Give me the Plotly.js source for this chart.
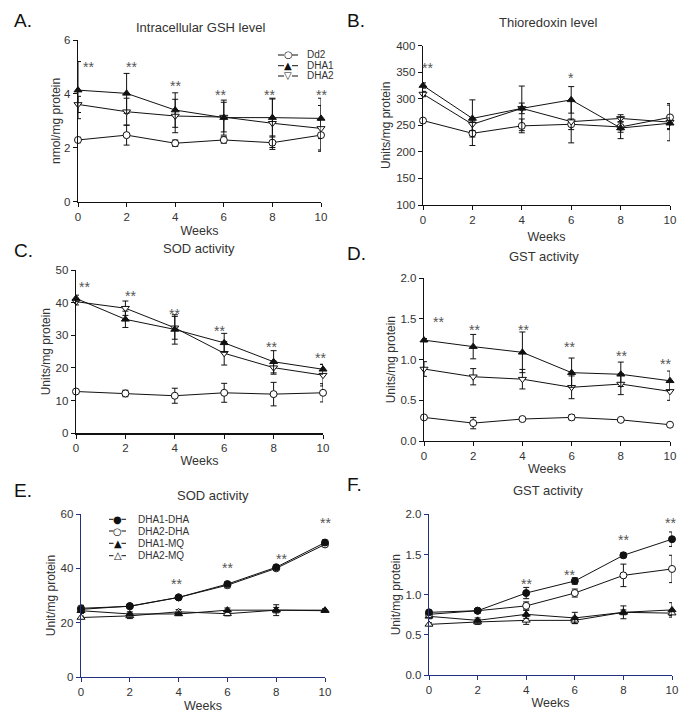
<!DOCTYPE html>
<html><head><meta charset="utf-8">
<script src="https://cdn.plot.ly/plotly-3.0.1.min.js"></script>
<style>html,body{margin:0;padding:0;background:#fff}</style>
</head><body><div id="chart" style="width:689px;height:723px"></div>
<script>
// ---------------- DATA ----------------
const weeks = [0, 2, 4, 6, 8, 10];

// A. Intracellular GSH level (nmol/mg protein)
const gshDd2 = [2.29, 2.47, 2.17, 2.29, 2.19, 2.47];
const gshDd2Err = [0.10, 0.37, 0.12, 0.12, 0.25, 0.55];
const gshDHA1 = [4.14, 4.02, 3.40, 3.12, 3.12, 3.09];
const gshDHA1Err = [1.06, 0.74, 0.64, 0.65, 0.72, 0.75];
const gshDHA2 = [3.61, 3.34, 3.18, 3.14, 2.91, 2.72];
const gshDHA2Err = [0.30, 0.50, 0.62, 0.55, 0.90, 0.85];

// B. Thioredoxin level (Units/mg protein)
const trxDd2 = [259, 235, 249, 252, 247, 265];
const trxDd2Err = [3, 23, 13, 10, 10, 23];
const trxDHA1 = [325, 263, 282, 298, 245, 254];
const trxDHA1Err = [5, 35, 42, 25, 20, 10];
const trxDHA2 = [309, 252, 282, 257, 263, 256];
const trxDHA2Err = [5, 12, 10, 40, 7, 35];

// C. SOD activity (Units/mg protein)
const sodDd2 = [12.8, 12.2, 11.5, 12.4, 12.0, 12.4];
const sodDd2Err = [0.5, 1.0, 2.3, 2.9, 3.6, 2.8];
const sodDHA1 = [41.3, 34.9, 31.8, 27.7, 21.9, 19.6];
const sodDHA1Err = [1.0, 2.5, 4.5, 2.9, 3.4, 1.5];
const sodDHA2 = [40.3, 38.3, 32.3, 24.5, 20.1, 17.8];
const sodDHA2Err = [1.0, 2.2, 3.5, 3.6, 2.0, 3.3];

// D. GST activity (Units/mg protein)
const gstDd2 = [0.29, 0.22, 0.27, 0.29, 0.26, 0.20];
const gstDd2Err = [0.02, 0.07, 0.02, 0.03, 0.02, 0.02];
const gstDHA1 = [1.24, 1.16, 1.09, 0.84, 0.82, 0.74];
const gstDHA1Err = [0.02, 0.15, 0.25, 0.18, 0.15, 0.12];
const gstDHA2 = [0.885, 0.79, 0.76, 0.66, 0.70, 0.61];
const gstDHA2Err = [0.09, 0.10, 0.12, 0.14, 0.13, 0.11];

// E. SOD activity (Unit/mg protein)
const sodE_DHA1DHA = [24.9, 26.1, 29.3, 34.2, 40.4, 49.5];
const sodE_DHA1DHAErr = [1.5, 0.6, 0.5, 0.8, 0.8, 1.0];
const sodE_DHA2DHA = [25.3, 26.0, 29.3, 33.8, 40.0, 48.8];
const sodE_DHA2DHAErr = [1.0, 0.5, 0.5, 1.0, 0.8, 0.8];
const sodE_DHA1MQ = [24.4, 23.2, 23.2, 24.6, 24.6, 24.6];
const sodE_DHA1MQErr = [0.8, 0.8, 0.5, 0.8, 1.0, 0.5];
const sodE_DHA2MQ = [21.9, 22.5, 24.0, 23.3, 24.6, 24.4];
const sodE_DHA2MQErr = [0.5, 1.0, 0.8, 0.8, 2.0, 0.5];

// F. GST activity (Unit/mg protein)
const gstF_DHA1DHA = [0.78, 0.80, 1.02, 1.17, 1.49, 1.69];
const gstF_DHA1DHAErr = [0.02, 0.02, 0.07, 0.04, 0.03, 0.09];
const gstF_DHA2DHA = [0.755, 0.80, 0.86, 1.02, 1.24, 1.32];
const gstF_DHA2DHAErr = [0.02, 0.02, 0.05, 0.05, 0.14, 0.17];
const gstF_DHA1MQ = [0.73, 0.68, 0.755, 0.71, 0.78, 0.81];
const gstF_DHA1MQErr = [0.03, 0.03, 0.05, 0.07, 0.08, 0.09];
const gstF_DHA2MQ = [0.63, 0.66, 0.68, 0.68, 0.78, 0.77];
const gstF_DHA2MQErr = [0.02, 0.03, 0.05, 0.04, 0.03, 0.03];

// significance marks
const starsA = {x: [0.45, 2.2, 4.0, 5.85, 7.9, 10.0, 10.35], y: [5.14, 5.14, 4.46, 4.12, 4.12, 4.12, 2.8], t: ['**','**','**','**','**','**','*']};
const starsB = {x: [0.2, 6.0], y: [366, 347], t: ['**','*']};
const starsC = {x: [0.35, 2.2, 4.0, 5.82, 7.9, 9.9], y: [45.9, 43.4, 37.8, 32.7, 27.6, 24.3], t: ['**','**','**','**','**','**']};
const starsD = {x: [0.57, 2.06, 4.03, 5.9, 8.03, 9.82], y: [1.51, 1.41, 1.41, 1.2, 1.09, 0.99], t: ['**','**','**','**','**','**']};
const starsE = {x: [3.92, 6.0, 8.2, 10.0], y: [35.7, 41.6, 45.0, 58.1], t: ['**','**','**','**']};
const starsF = {x: [4.0, 5.78, 8.0, 9.93], y: [1.18, 1.29, 1.73, 1.94], t: ['**','**','**','**']};

const xTickVals = [0, 2, 4, 6, 8, 10];

// ---------------- LAYOUT HELPERS ----------------
const W = 689, H = 723;
const FONT = 'Liberation Sans, Arial, Helvetica, sans-serif';
const TXT = '#333';
const BLACK = '#111';
const NAVY = '#23317F';

const panels = [
  {letter:'A.', title:'Intracellular GSH level', xd:[78,321], yd:[40,201.7], yr:[0,6], yt:[0,2,4,6], fmt:'', ytitle:'nmol/mg protein', col:BLACK, stars:starsA,
    lx:12, ly:20, tx:200, ty:28, ys:0, xs:4},
  {letter:'B.', title:'Thioredoxin level', xd:[423,670], yd:[45.7,205], yr:[100,400], yt:[100,150,200,250,300,350,400], fmt:'', ytitle:'Units/mg protein', col:BLACK, stars:starsB,
    lx:345, ly:20, tx:548, ty:22, ys:3, xs:7},
  {letter:'C.', title:'SOD activity', xd:[76,323], yd:[270,433.3], yr:[0,50], yt:[0,10,20,30,40,50], fmt:'', ytitle:'Units/mg protein', col:BLACK, stars:starsC,
    lx:12, ly:250, tx:199, ty:248, ys:2, xs:2},
  {letter:'D.', title:'GST activity', xd:[424,670], yd:[278.3,441], yr:[0,2], yt:[0,0.5,1,1.5,2], fmt:'.1f', ytitle:'Units/mg protein', col:BLACK, stars:starsD,
    lx:345, ly:254, tx:544, ty:256, ys:2, xs:3},
  {letter:'E.', title:'SOD activity', xd:[81,325], yd:[514,677], yr:[0,60], yt:[0,20,40,60], fmt:'', ytitle:'Unit/mg protein', col:NAVY, stars:starsE,
    lx:12, ly:490, tx:213, ty:495, ys:2, xs:4},
  {letter:'F.', title:'GST activity', xd:[429,672], yd:[514.3,675], yr:[0,2], yt:[0,0.5,1,1.5,2], fmt:'.1f', ytitle:'Unit/mg protein', col:NAVY, stars:starsF,
    lx:345, ly:485, tx:548, ty:490, ys:2, xs:3}
];

const MK = {
  openCircle: {symbol:'circle', color:'white', line:{color:BLACK, width:1}},
  fillCircle: {symbol:'circle', color:BLACK, line:{color:BLACK, width:1}},
  fillTriUp: {symbol:'triangle-up', color:BLACK, line:{color:BLACK, width:1}},
  openTriUp: {symbol:'triangle-up', color:'white', line:{color:BLACK, width:1}},
  openTriDown: {symbol:'triangle-down', color:'white', line:{color:BLACK, width:1}}
};

const series = [
  // panel index, name, values, errors, marker
  [0, 'Dd2', gshDd2, gshDd2Err, 'openCircle'],
  [0, 'DHA2', gshDHA2, gshDHA2Err, 'openTriDown'],
  [0, 'DHA1', gshDHA1, gshDHA1Err, 'fillTriUp'],
  [1, 'Dd2', trxDd2, trxDd2Err, 'openCircle'],
  [1, 'DHA2', trxDHA2, trxDHA2Err, 'openTriDown'],
  [1, 'DHA1', trxDHA1, trxDHA1Err, 'fillTriUp'],
  [2, 'Dd2', sodDd2, sodDd2Err, 'openCircle'],
  [2, 'DHA2', sodDHA2, sodDHA2Err, 'openTriDown'],
  [2, 'DHA1', sodDHA1, sodDHA1Err, 'fillTriUp'],
  [3, 'Dd2', gstDd2, gstDd2Err, 'openCircle'],
  [3, 'DHA2', gstDHA2, gstDHA2Err, 'openTriDown'],
  [3, 'DHA1', gstDHA1, gstDHA1Err, 'fillTriUp'],
  [4, 'DHA2-MQ', sodE_DHA2MQ, sodE_DHA2MQErr, 'openTriUp'],
  [4, 'DHA1-MQ', sodE_DHA1MQ, sodE_DHA1MQErr, 'fillTriUp'],
  [4, 'DHA2-DHA', sodE_DHA2DHA, sodE_DHA2DHAErr, 'openCircle'],
  [4, 'DHA1-DHA', sodE_DHA1DHA, sodE_DHA1DHAErr, 'fillCircle'],
  [5, 'DHA2-MQ', gstF_DHA2MQ, gstF_DHA2MQErr, 'openTriUp'],
  [5, 'DHA1-MQ', gstF_DHA1MQ, gstF_DHA1MQErr, 'fillTriUp'],
  [5, 'DHA2-DHA', gstF_DHA2DHA, gstF_DHA2DHAErr, 'openCircle'],
  [5, 'DHA1-DHA', gstF_DHA1DHA, gstF_DHA1DHAErr, 'fillCircle']
];

function suffix(i){ return i === 0 ? '' : String(i + 1); }

const traces = series.map(s => {
  const [pi, name, vals, errs, mk] = s;
  return {
    type:'scatter', mode:'lines+markers', name:name, showlegend:false,
    x: weeks, y: vals,
    xaxis:'x' + suffix(pi), yaxis:'y' + suffix(pi),
    line:{color:BLACK, width:1},
    marker:Object.assign({size:7}, MK[mk]),
    error_y:{type:'data', array:errs, visible:true, color:BLACK, thickness:1, width:3},
    cliponaxis:false, hoverinfo:'skip'
  };
});

const layout = {
  width:W, height:H, margin:{l:0, r:0, t:0, b:0},
  paper_bgcolor:'white', plot_bgcolor:'white', showlegend:false,
  font:{family:FONT, color:TXT, size:11},
  annotations:[], shapes:[]
};

panels.forEach((p, i) => {
  const sx = suffix(i);
  const tickfont = {family:FONT, size:11.5, color:TXT};
  layout['xaxis' + sx] = {
    domain:[p.xd[0]/W, p.xd[1]/W], range:[0,10], anchor:'y' + sx,
    tickvals:xTickVals, ticks:'outside', ticklen:4, tickwidth:1, tickcolor:p.col,
    showline:true, linecolor:p.col, linewidth:1.3, showgrid:false, zeroline:false,
    tickfont:tickfont, automargin:false, fixedrange:true,
    title:{text:'Weeks', font:{family:FONT, size:12.5, color:TXT}, standoff:p.xs}
  };
  layout['yaxis' + sx] = {
    domain:[1 - p.yd[1]/H, 1 - p.yd[0]/H], range:p.yr, anchor:'x' + sx,
    tickvals:p.yt, tickformat:p.fmt, ticks:'outside', ticklen:4, tickwidth:1, tickcolor:p.col,
    showline:true, linecolor:p.col, linewidth:1.3, showgrid:false, zeroline:false,
    tickfont:tickfont, automargin:false, fixedrange:true,
    title:{text:p.ytitle, font:{family:FONT, size:12, color:TXT}, standoff:p.ys}
  };
  // panel letter
  layout.annotations.push({xref:'paper', yref:'paper', x:p.lx/W, y:1 - p.ly/H, xanchor:'left', yanchor:'middle',
    text:p.letter, showarrow:false, font:{family:FONT, size:19, color:'#111'}});
  // panel title
  layout.annotations.push({xref:'paper', yref:'paper', x:p.tx/W, y:1 - p.ty/H, xanchor:'center', yanchor:'middle',
    text:p.title, showarrow:false, font:{family:FONT, size:13, color:TXT}});
  // significance stars
  p.stars.x.forEach((sxv, k) => {
    layout.annotations.push({xref:'x' + sx, yref:'y' + sx, x:sxv, y:p.stars.y[k], xanchor:'center', yanchor:'middle',
      text:p.stars.t[k], showarrow:false, yshift:-4, font:{family:FONT, size:14, color:'#555'}});
  });
});

// ---------------- LEGENDS (drawn as key glyphs) ----------------
const legendA = {names:['Dd2','DHA1','DHA2'], glyphs:['○','▲','▽'], x0:278, x1:298, tx:305, rows:[55, 65.7, 76]};
const legendE = {names:['DHA1-DHA','DHA2-DHA','DHA1-MQ','DHA2-MQ'], glyphs:['●','○','▲','△'], x0:109, x1:126, tx:136, rows:[519.3, 531, 543.3, 555.7]};
[legendA, legendE].forEach(L => {
  L.names.forEach((nm, k) => {
    const yy = L.rows[k];
    const xc = (L.x0 + L.x1) / 2;
    layout.shapes.push({type:'line', xref:'paper', yref:'paper', x0:L.x0/W, x1:(xc-4)/W, y0:1-yy/H, y1:1-yy/H, line:{color:BLACK, width:1}});
    layout.shapes.push({type:'line', xref:'paper', yref:'paper', x0:(xc+4)/W, x1:L.x1/W, y0:1-yy/H, y1:1-yy/H, line:{color:BLACK, width:1}});
    layout.annotations.push({xref:'paper', yref:'paper', x:xc/W, y:1-yy/H, xanchor:'center', yanchor:'middle',
      text:L.glyphs[k], showarrow:false, font:{family:'DejaVu Sans', size:10, color:BLACK}});
    layout.annotations.push({xref:'paper', yref:'paper', x:L.tx/W, y:1-yy/H, xanchor:'left', yanchor:'middle',
      text:nm, showarrow:false, font:{family:FONT, size:10, color:TXT}});
  });
});

Plotly.newPlot('chart', traces, layout, {staticPlot:true, displayModeBar:false});
</script>
</body></html>
